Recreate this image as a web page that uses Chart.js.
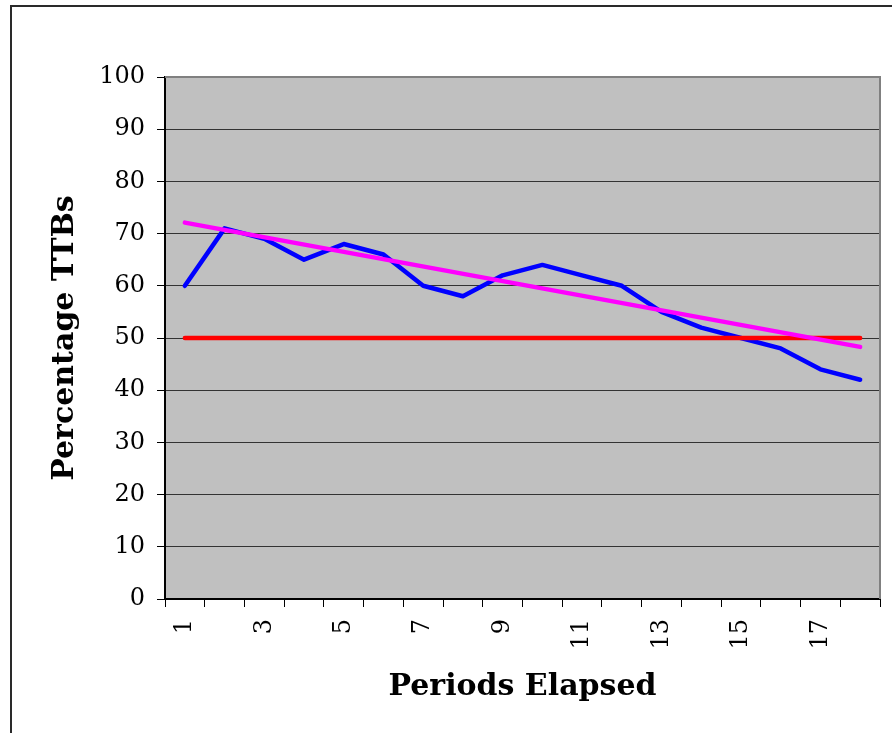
<!DOCTYPE html>
<html>
<head>
<meta charset="utf-8">
<script src="https://cdn.jsdelivr.net/npm/chart.js@4/dist/chart.umd.min.js"></script>
<style>
  html, body { margin: 0; padding: 0; background: #ffffff; overflow: hidden; }
  #wrap { position: relative; width: 892px; height: 733px; }
  #frame { position: absolute; left: 10px; top: 5px; width: 1000px; height: 1000px;
           border-left: 2px solid #2a2a2a; border-top: 2px solid #2a2a2a; box-sizing: border-box; }
  canvas { position: absolute; left: 0; top: 0; }
</style>
</head>
<body>
<div id="wrap">
  <div id="frame"></div>
  <canvas id="c" width="892" height="733"></canvas>
</div>
<script>
// ---- data ----
const periods = ['1','2','3','4','5','6','7','8','9','10','11','12','13','14','15','16','17','18'];
const ttbPercent = [60, 71, 69, 65, 68, 66, 60, 58, 62, 64, 62, 60, 55, 52, 50, 48, 44, 42];
const targetPercent = [50, 50, 50, 50, 50, 50, 50, 50, 50, 50, 50, 50, 50, 50, 50, 50, 50, 50];
const trendPercent = [72.1, null, null, null, null, null, null, null, null, null, null, null, null, null, null, null, null, 48.3];
const yTicks = [0, 10, 20, 30, 40, 50, 60, 70, 80, 90, 100];

const SERIF = '"DejaVu Serif", "Liberation Serif", serif';

const plotBg = {
  id: 'plotBg',
  beforeDraw(chart) {
    const {ctx, chartArea: a} = chart;
    ctx.save();
    ctx.fillStyle = '#C0C0C0';
    ctx.fillRect(a.left, a.top, a.right - a.left, a.bottom - a.top);
    ctx.restore();
  },
  beforeDatasetsDraw(chart) {
    const {ctx, chartArea: a} = chart;
    ctx.save();
    ctx.strokeStyle = '#808080';
    ctx.lineWidth = 2;
    ctx.beginPath();
    ctx.moveTo(a.left, a.top);
    ctx.lineTo(a.right, a.top);
    ctx.lineTo(a.right, a.bottom);
    ctx.stroke();
    ctx.restore();
  }
};

new Chart(document.getElementById('c'), {
  type: 'line',
  data: {
    labels: periods,
    datasets: [
      {
        label: 'TTBs',
        data: ttbPercent,
        borderColor: '#0000FF',
        borderWidth: 4.5,
        pointRadius: 0,
        tension: 0,
        borderJoinStyle: 'round',
        borderCapStyle: 'round',
        order: 3
      },
      {
        label: 'Target',
        data: targetPercent,
        borderColor: '#FF0000',
        borderWidth: 4.5,
        pointRadius: 0,
        borderCapStyle: 'round',
        order: 2
      },
      {
        label: 'Trend',
        data: trendPercent,
        borderColor: '#FF00FF',
        borderWidth: 4.5,
        pointRadius: 0,
        spanGaps: true,
        borderCapStyle: 'round',
        order: 1
      }
    ]
  },
  options: {
    responsive: false,
    animation: false,
    devicePixelRatio: 1,
    layout: { padding: { top: 77, right: 12, left: 0, bottom: 0 } },
    plugins: { legend: { display: false }, tooltip: { enabled: false } },
    scales: {
      x: {
        offset: true,
        grid: {
          offset: true,
          drawOnChartArea: false,
          drawTicks: true,
          tickLength: 8,
          color: '#000000',
          lineWidth: 1
        },
        border: { display: true, color: '#000000', width: 2 },
        ticks: {
          autoSkip: false,
          minRotation: 90,
          maxRotation: 90,
          padding: 12,
          color: '#000000',
          font: { family: SERIF, size: 24 },
          callback: function(val, idx) { return idx % 2 === 0 ? periods[idx] : ''; }
        },
        title: {
          display: true,
          text: 'Periods Elapsed',
          color: '#000000',
          font: { family: SERIF, size: 30, weight: 'bold', lineHeight: 1.2 },
          padding: { top: 0, bottom: 28 }
        },
        afterFit(scale) { scale.height = 134; scale.paddingLeft = 0; scale.paddingRight = 0; }
      },
      y: {
        min: 0,
        max: 100,
        afterBuildTicks(scale) { scale.ticks = yTicks.map(v => ({ value: v })); },
        grid: {
          color: '#333333',
          lineWidth: 1,
          drawTicks: true,
          tickLength: 8,
          tickColor: '#000000'
        },
        border: { display: true, color: '#000000', width: 2 },
        ticks: {
          padding: 12,
          color: '#000000',
          font: { family: SERIF, size: 24 }
        },
        title: {
          display: true,
          text: 'Percentage TTBs',
          color: '#000000',
          font: { family: SERIF, size: 30, weight: 'bold', lineHeight: 1.2 },
          padding: { top: 47, bottom: 0 }
        },
        afterFit(scale) { scale.width = 165; scale.paddingTop = 0; scale.paddingBottom = 0; }
      }
    }
  },
  plugins: [plotBg]
});
</script>
</body>
</html>
